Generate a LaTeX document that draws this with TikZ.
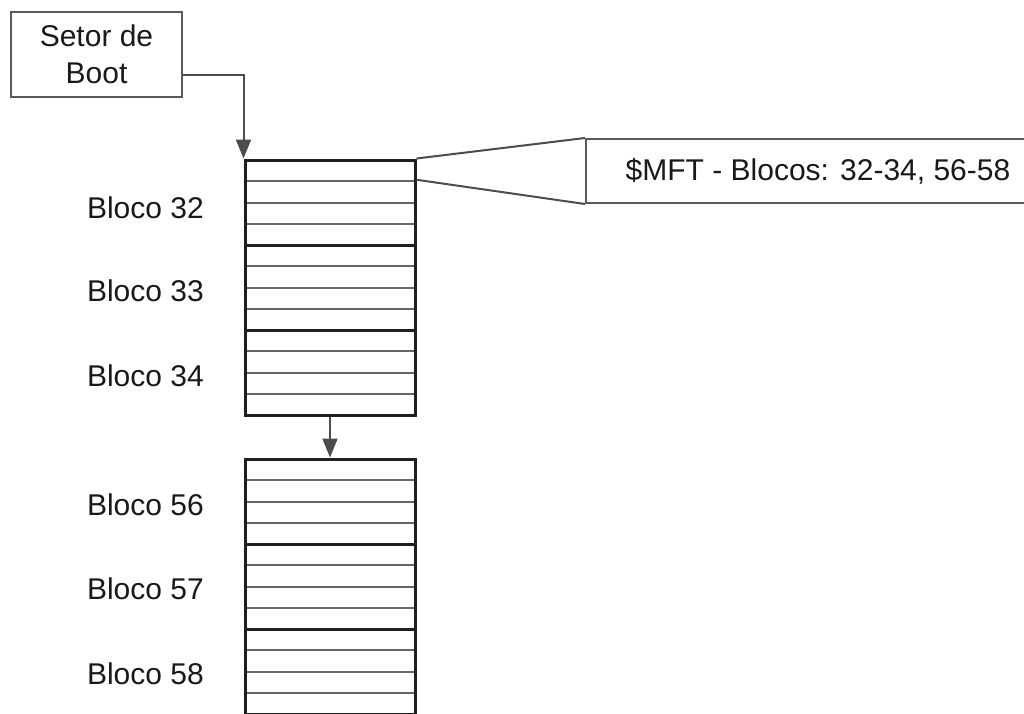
\documentclass[tikz,border=0pt]{standalone}
\usepackage{fontspec}
\setmainfont{Liberation Sans}
\usetikzlibrary{arrows.meta}
\begin{document}
\begin{tikzpicture}[x=1pt,y=-1pt,
  txt/.style={font=\fontsize{30}{37}\selectfont,text=black!90},
  lbl/.style={txt,anchor=base east,inner sep=0pt},
  blk/.style={draw=black!88,line width=3pt,minimum width=170pt,minimum height=85pt,inner sep=0pt},
  row/.style={draw=black!60,line width=2pt},
  conn/.style={draw=black!70,line width=2pt},
  arr/.style={conn,-{Triangle[length=19pt,width=15pt]}},
  boxst/.style={txt,draw=black!65,line width=2pt,align=center,inner sep=0pt}]
\useasboundingbox (0,0) rectangle (1024,713);
\clip (0,0) rectangle (1024,713);
% Setor de Boot
\node[boxst,minimum width=171pt,minimum height=85pt] (boot) at (96.5,54.5) {Setor de\\Boot};
% blocks
\foreach \n/\t in {32/160,33/245,34/330,56/459,57/544,58/629}{
  \foreach \k in {1,2,3}{
    \draw[row] (245,{\t+21.25*\k}) -- (415,{\t+21.25*\k});
  }
  \node[blk] (b\n) at (330,{\t+42.5}) {};
}
% labels
\node[lbl] (l32) at (204,218) {Bloco 32};
\node[lbl] (l33) at (204,301) {Bloco 33};
\node[lbl] (l34) at (204,386) {Bloco 34};
\node[lbl] (l56) at (204,515) {Bloco 56};
\node[lbl] (l57) at (204,599) {Bloco 57};
\node[lbl] (l58) at (204,684) {Bloco 58};
% callout
\node[boxst,minimum width=464pt,minimum height=64pt,anchor=west] (mft) at (585,171) {\$MFT - Blocos: 32-34, 56-58};
\draw[conn] (b32.north east) -- (mft.north west);
\draw[conn] ([yshift=-21.25pt]b32.north east) -- (mft.south west);
% connectors
\draw[arr] ([yshift=-20pt]boot.east) -| (b32.north west);
\draw[arr] (b34.south) -- (b56.north);
\end{tikzpicture}
\end{document}
